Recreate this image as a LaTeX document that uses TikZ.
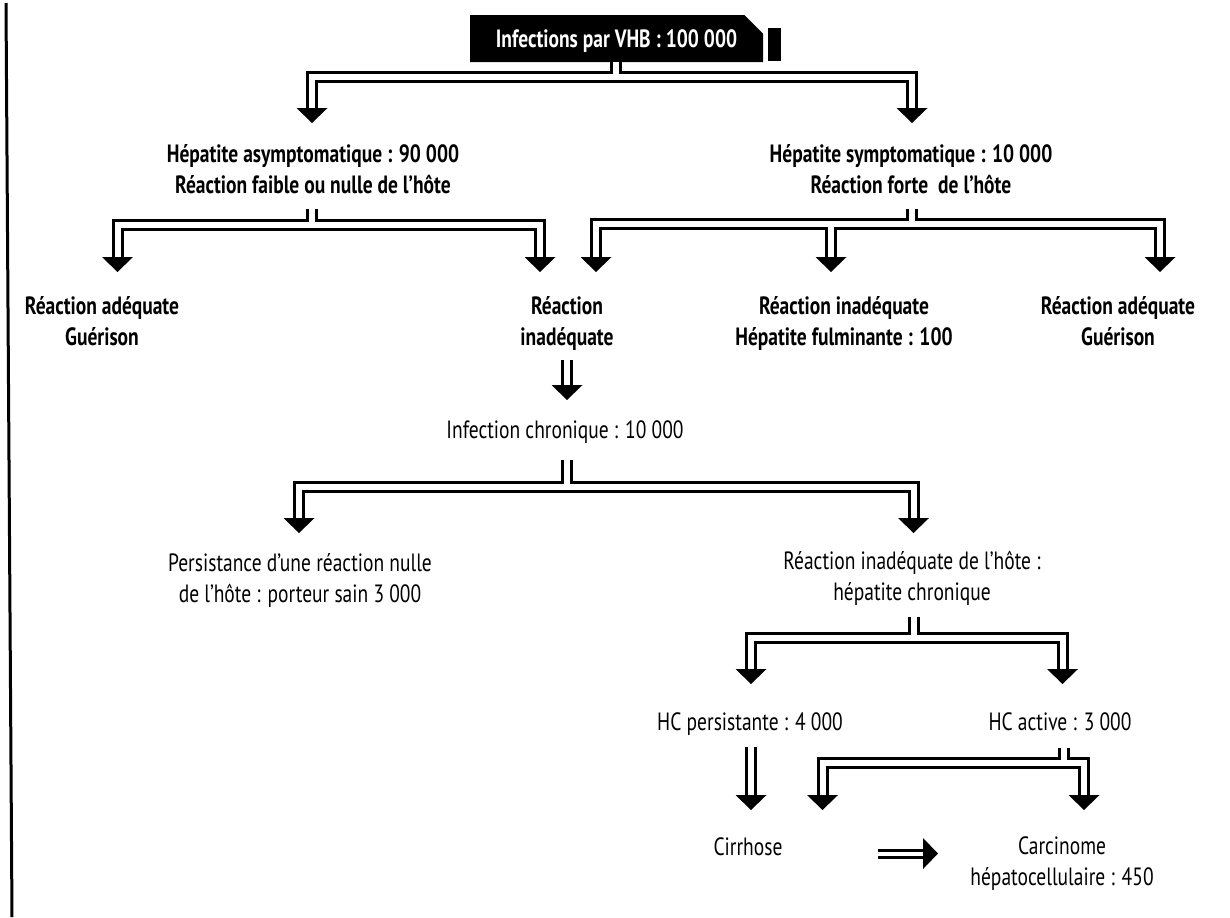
\documentclass[tikz,border=0pt]{standalone}
\usepackage{fontspec}
\setmainfont{PT Sans}[FakeStretch=0.78]
\usetikzlibrary{calc,shapes.misc}

\tikzset{
  dbl/.style={draw=black, double=white, double distance=3pt, line width=1.5pt, line join=miter},
  head/.pic={\fill (-7.75pt,7.5pt) -- (7.75pt,7.5pt) -- (0,0) -- cycle;},
  txtbold/.style={align=center, inner sep=0pt, anchor=base, font=\fontsize{12.5}{15.5}\selectfont\bfseries},
  txtreg/.style={txtbold, font=\fontsize{12.5}{15.5}\selectfont},
  titlebox/.style={chamfered rectangle, chamfered rectangle corners=north east,
    chamfered rectangle xsep=6.5pt, chamfered rectangle ysep=5pt, fill=black, text=white,
    minimum width=146.5pt, minimum height=23.5pt, inner sep=0pt, text height=8.75pt, text depth=0pt,
    font=\fontsize{12.5}{15.5}\selectfont\bfseries}
}

\begin{document}
\begin{tikzpicture}[x=0.5pt, y=-0.5pt]
\useasboundingbox (0,0) rectangle (1230,917);
\draw[line width=1.5pt] (6,3) -- (12,917);

% title
\node[titlebox] (vhb) at (616.5,38.5) {Infections par VHB : 100 000};
\fill (768,28) rectangle (781,61);

% texts (base = last line)
\node[txtbold] (asym) at (313,193) {Hépatite asymptomatique : 90 000\\Réaction faible ou nulle de l'hôte};
\node[txtbold] (sym) at (911,193) {Hépatite symptomatique : 10 000\\Réaction forte~ de l'hôte};
\node[txtbold] (adeqL) at (102,345) {Réaction adéquate\\Guérison};
\node[txtbold] (inadeq) at (567,345) {Réaction\\inadéquate};
\node[txtbold] (fulm) at (844,345) {Réaction inadéquate\\Hépatite fulminante : 100};
\node[txtbold] (adeqR) at (1118,345) {Réaction adéquate\\Guérison};
\node[txtreg] (chronic) at (565,438) {Infection chronique : 10 000};
\node[txtreg] (porteur) at (300,602) {Persistance d'une réaction nulle\\de l'hôte : porteur sain 3 000};
\node[txtreg] (chronHep) at (912,600) {Réaction inadéquate de l'hôte :\\hépatite chronique};
\node[txtreg] (hcPers) at (750,730) {HC persistante : 4 000};
\node[txtreg] (hcAct) at (1060,730) {HC active : 3 000};
\node[txtreg] (cirrh) at (748,855) {Cirrhose};
\node[txtreg] (carcin) at (1062,885) {Carcinome\\hépatocellulaire : 450};

% first split
\coordinate (bar1) at (616,76.5);
\coordinate (t1a) at (312,123);
\coordinate (t1b) at (912,123);
\draw[dbl] ($(t1a)+(0,-15)$) |- (bar1) -| ($(t1b)+(0,-15)$);
\draw[dbl] (vhb.south -| bar1) -- ($(bar1)+(0,-3)$);
\pic at (t1a) {head};
\pic at (t1b) {head};

% asymptomatique
\coordinate (bar2) at (312,224.5);
\coordinate (t2a) at (117.5,272);
\coordinate (t2b) at (540,272);
\draw[dbl] ($(t2a)+(0,-15)$) |- (bar2) -| ($(t2b)+(0,-15)$);
\draw[dbl] ($(asym.south -| bar2)+(0,15)$) -- ($(bar2)+(0,-3)$);
\pic at (t2a) {head};
\pic at (t2b) {head};

% symptomatique
\coordinate (bar3) at (912,223.5);
\coordinate (t3a) at (596,272);
\coordinate (t3b) at (831,272);
\coordinate (t3c) at (1160,272);
\draw[dbl] ($(t3a)+(0,-15)$) |- (bar3) -| ($(t3c)+(0,-15)$);
\draw[dbl] ($(sym.south -| bar3)+(0,15)$) -- ($(bar3)+(0,-3)$);
\draw[dbl] ($(t3b |- bar3)+(0,3)$) -- ($(t3b)+(0,-15)$);
\pic at (t3a) {head};
\pic at (t3b) {head};
\pic at (t3c) {head};

% vers infection chronique
\coordinate (t4) at (567,400);
\draw[dbl] ($(t4 |- inadeq.south)+(0,10)$) -- ($(t4)+(0,-15)$);
\pic at (t4) {head};

% infection chronique
\coordinate (bar5) at (567,486.5);
\coordinate (t5a) at (299,533);
\coordinate (t5b) at (913.5,533);
\draw[dbl] ($(t5a)+(0,-15)$) |- (bar5) -| ($(t5b)+(0,-15)$);
\draw[dbl] ($(chronic.south -| bar5)+(0,17)$) -- ($(bar5)+(0,-3)$);
\pic at (t5a) {head};
\pic at (t5b) {head};

% hepatite chronique
\coordinate (bar6) at (914,638);
\coordinate (t6a) at (751,684);
\coordinate (t6b) at (1062.5,684);
\draw[dbl] ($(t6a)+(0,-15)$) |- (bar6) -| ($(t6b)+(0,-15)$);
\draw[dbl] ($(chronHep.south -| bar6)+(0,12)$) -- ($(bar6)+(0,-3)$);
\pic at (t6a) {head};
\pic at (t6b) {head};

% HC persistante
\coordinate (t7) at (751,810);
\draw[dbl] ($(t7 |- hcPers.south)+(0,12)$) -- ($(t7)+(0,-15)$);
\pic at (t7) {head};

% HC active
\coordinate (bar8) at (1063.5,763);
\coordinate (t8a) at (822.5,810);
\coordinate (t8b) at (1084,810);
\draw[dbl] ($(t8a)+(0,-15)$) |- (bar8) -| ($(t8b)+(0,-15)$);
\draw[dbl] ($(hcAct.south -| bar8)+(0,17)$) -- ($(bar8)+(0,-3)$);
\pic at (t8a) {head};
\pic at (t8b) {head};

% cirrhose vers carcinome
\coordinate (a9) at (878,853.5);
\coordinate (t9) at (938,853.5);
\draw[dbl, double distance=2pt] (a9) -- ($(t9)+(-15,0)$);
\pic[rotate=90] at (t9) {head};
\end{tikzpicture}
\end{document}
